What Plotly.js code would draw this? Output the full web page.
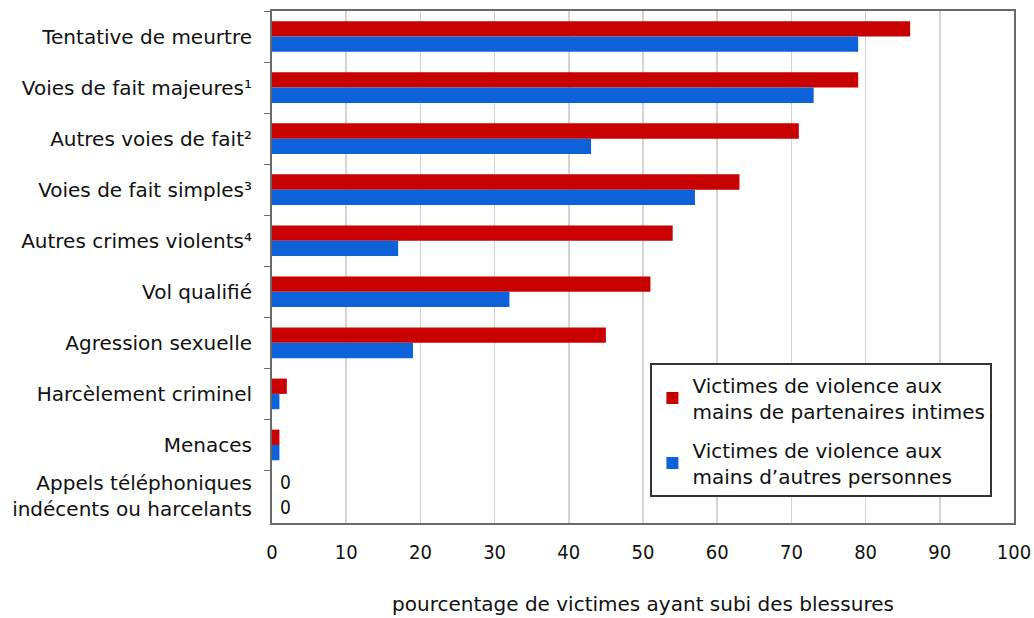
<!DOCTYPE html>
<html>
<head>
<meta charset="utf-8">
<script src="https://cdn.plot.ly/plotly-3.0.1.min.js"></script>
<style>html,body{margin:0;padding:0;background:#fff;}#chart{width:1034px;height:618px;}</style>
</head>
<body>
<div id="chart"></div>
<script>
const categories = [
  "Tentative de meurtre",
  "Voies de fait majeures¹",
  "Autres voies de fait²",
  "Voies de fait simples³",
  "Autres crimes violents⁴",
  "Vol qualifié",
  "Agression sexuelle",
  "Harcèlement criminel",
  "Menaces",
  "Appels téléphoniques<br>indécents ou harcelants"
];
const intimateValues = [86, 79, 71, 63, 54, 51, 45, 2, 1, 0];
const otherValues    = [79, 73, 43, 57, 17, 32, 19, 1, 1, 0];
const seriesNames = [
  "Victimes de violence aux<br>mains de partenaires intimes",
  "Victimes de violence aux<br>mains d’autres personnes"
];
const xTicks = [0, 10, 20, 30, 40, 50, 60, 70, 80, 90, 100];
const xTitle = "pourcentage de victimes ayant subi des blessures";

const font = "'DejaVu Sans', Verdana, sans-serif";
const condensed = "'DejaVu Sans Condensed', 'DejaVu Sans', sans-serif";

const traces = [
  {
    type: "bar", orientation: "h", name: seriesNames[0], legendgroup: "a",
    y: categories, x: intimateValues,
    marker: {color: "#c80000"}
  },
  {
    type: "bar", orientation: "h", name: seriesNames[1], legendgroup: "b",
    y: categories, x: otherValues,
    marker: {color: "#0d62da"}
  }
];

// value labels shown only for zero-valued bars, as in the reference
const zeroLabels = [];
[[intimateValues, 14], [otherValues, -11]].forEach(([vals, shift]) => {
  vals.forEach((v, i) => {
    if (v === 0) {
      zeroLabels.push({
        x: v, y: categories[i], xref: "x", yref: "y",
        text: String(v), showarrow: false, xanchor: "left",
        xshift: 6, yshift: shift,
        font: {family: condensed, size: 19, color: "#111"}
      });
    }
  });
});

const layout = {
  width: 1034, height: 618,
  margin: {l: 272, r: 20, t: 11, b: 95},
  paper_bgcolor: "#fff", plot_bgcolor: "#fff",
  font: {family: font, size: 20, color: "#111"},
  barmode: "group", bargap: 0.4, bargroupgap: 0,
  showlegend: true,
  annotations: zeroLabels,
  legend: {
    x: 0.51, y: 0.05, xanchor: "left", yanchor: "bottom",
    bgcolor: "#fff", bordercolor: "#333", borderwidth: 2,
    font: {family: font, size: 20, color: "#111"},
    traceorder: "grouped", tracegroupgap: 10, itemwidth: 30
  },
  xaxis: {
    range: [0, 100], tickvals: xTicks, ticktext: xTicks.map(String),
    showgrid: true, gridcolor: "#d4d4d4", gridwidth: 1.5,
    showline: true, mirror: true, linecolor: "#6a6a6a", linewidth: 2,
    ticks: "", ticklabelstandoff: 10, zeroline: false,
    tickfont: {family: condensed, size: 20, color: "#111"},
    title: {text: xTitle, standoff: 34, font: {family: font, size: 20, color: "#111"}},
    fixedrange: true
  },
  yaxis: {
    autorange: "reversed", type: "category",
    showline: true, mirror: true, linecolor: "#6a6a6a", linewidth: 2,
    ticks: "outside", tickson: "boundaries", ticklen: 6, tickcolor: "#6a6a6a",
    ticklabelstandoff: 14, showgrid: false,
    tickfont: {family: font, size: 20, color: "#111"},
    fixedrange: true
  }
};

Plotly.newPlot("chart", traces, layout, {displayModeBar: false, staticPlot: true});
</script>
</body>
</html>
